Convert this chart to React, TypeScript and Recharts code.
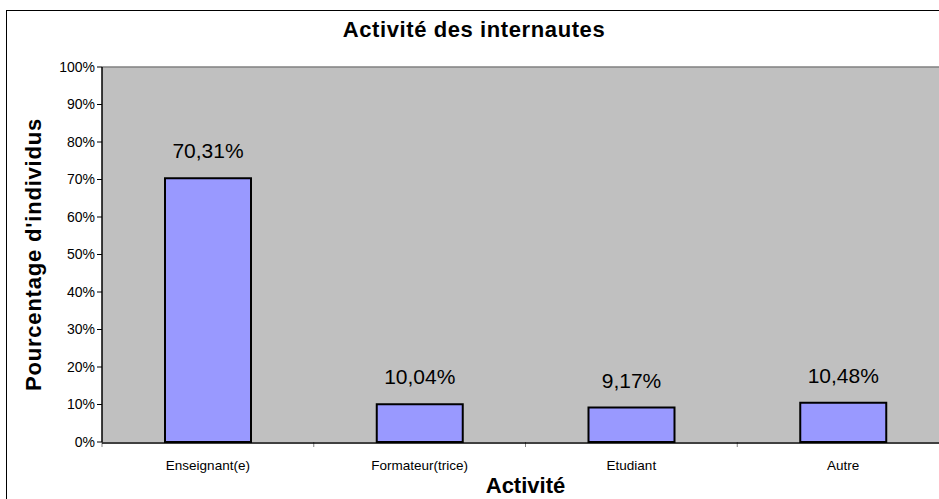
import { BarChart, Bar, XAxis, YAxis, CartesianGrid, LabelList, ReferenceLine } from 'recharts'

// Activité des internautes — répartition en %
const categories = ['Enseignant(e)', 'Formateur(trice)', 'Etudiant', 'Autre']
const shares     = [70.31, 10.04, 9.17, 10.48]
const yTicks     = [0, 10, 20, 30, 40, 50, 60, 70, 80, 90, 100]
const edgeTicks  = [0, 1, 2, 3, 4]

const data = categories.map((name, i) => ({ name, value: shares[i], pos: i + 0.5 }))

const pct = (v: number) => `${v.toFixed(2).replace('.', ',')}%`

export default function App() {
  return (
    <div style={{ position: 'fixed', left: 0, top: 0, width: 939, height: 499, overflow: 'hidden', background: '#fff', fontFamily: '"Liberation Sans", Arial, sans-serif' }}>
      {/* cadre du graphique */}
      <div style={{ position: 'absolute', left: 6, top: 10, width: 1000, height: 600, border: '1.5px solid #000' }} />
      <div style={{ position: 'absolute', left: 0, top: 19, width: 948, textAlign: 'center', fontSize: 22, lineHeight: '22px', fontWeight: 'bold', letterSpacing: 0.6, color: '#000' }}>
        Activité des internautes
      </div>
      <div style={{ position: 'absolute', left: 0, top: 0 }}>
        <BarChart width={960} height={520} data={data} margin={{ top: 67, right: 11, bottom: 48, left: 42 }}>
          <CartesianGrid xAxisId="b_cat" fill="#C0C0C0" horizontal={false} vertical={false} />
          <XAxis xAxisId="a_edge" type="number" dataKey="pos" domain={[0, 4]} ticks={edgeTicks} height={1}
            axisLine={false} tickLine={{ stroke: '#808080' }} tickSize={5} tick={{ fontSize: 1, fill: 'none' }}
            tickFormatter={() => ' '} allowDataOverflow />
          <XAxis xAxisId="b_cat" dataKey="name" height={29} tickLine={false} tickSize={7} tickMargin={10}
            axisLine={{ stroke: '#000', strokeWidth: 1.5 }}
            tick={{ fontSize: 13.5, fill: '#000' }}
            label={{ value: 'Activité', position: 'bottom', offset: 5, style: { fontSize: 22, fontWeight: 'bold', fill: '#000' } }} />
          <YAxis width={60} domain={[0, 100]} ticks={yTicks} interval={0} tickFormatter={v => `${v}%`}
            axisLine={{ stroke: '#000', strokeWidth: 1.5 }} tickLine={{ stroke: '#000' }} tickSize={5}
            tick={{ fontSize: 14, fill: '#000' }}
            label={{ value: "Pourcentage d'individus", angle: -90, position: 'insideLeft', offset: -9,
              style: { textAnchor: 'middle', fontSize: 22, fontWeight: 'bold', letterSpacing: 0.8, fill: '#000' } }} />
          <ReferenceLine xAxisId="b_cat" y={100} stroke="#808080" strokeWidth={1.5} />
          <Bar xAxisId="b_cat" dataKey="value" fill="#9999FF" stroke="#000" strokeWidth={2} barSize={86} isAnimationActive={false}>
            <LabelList dataKey="value" position="top" offset={20} formatter={(v: number) => pct(v)}
              style={{ fontSize: 21, fill: '#000' }} />
          </Bar>
        </BarChart>
      </div>
    </div>
  )
}
